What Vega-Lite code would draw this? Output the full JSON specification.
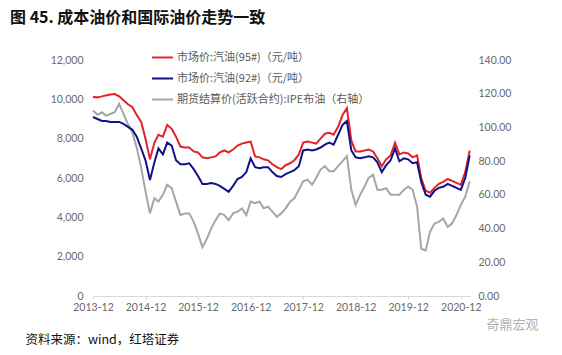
{
  "$schema": "https://vega.github.io/schema/vega-lite/v6.json",
  "width": 377,
  "height": 236,
  "autosize": {"type": "none"},
  "padding": {"left": 93, "top": 60, "right": 92, "bottom": 59},
  "background": "white",
  "title": {
    "text": "图 45. 成本油价和国际油价走势一致",
    "anchor": "start",
    "frame": "group",
    "dx": -83,
    "offset": 20,
    "fontSize": 16,
    "font": "Noto Sans CJK SC",
    "fontWeight": "bold",
    "color": "#111111"
  },
  "data": {
    "values": [
      {"date": "2013-12-01", "p95": 10120, "p92": 9100, "ipe": 110},
      {"date": "2014-01-01", "p95": 10100, "p92": 9000, "ipe": 107.5},
      {"date": "2014-02-01", "p95": 10150, "p92": 8900, "ipe": 109},
      {"date": "2014-03-01", "p95": 10200, "p92": 8900, "ipe": 107},
      {"date": "2014-04-01", "p95": 10250, "p92": 8850, "ipe": 108},
      {"date": "2014-05-01", "p95": 10270, "p92": 8850, "ipe": 109},
      {"date": "2014-06-01", "p95": 10150, "p92": 8850, "ipe": 114},
      {"date": "2014-07-01", "p95": 9950, "p92": 8750, "ipe": 108},
      {"date": "2014-08-01", "p95": 9750, "p92": 8600, "ipe": 102},
      {"date": "2014-09-01", "p95": 9600, "p92": 8450, "ipe": 97},
      {"date": "2014-10-01", "p95": 9200, "p92": 8100, "ipe": 88},
      {"date": "2014-11-01", "p95": 8850, "p92": 7500, "ipe": 76},
      {"date": "2014-12-01", "p95": 8000, "p92": 6900, "ipe": 62},
      {"date": "2015-01-01", "p95": 6950, "p92": 5900, "ipe": 49},
      {"date": "2015-02-01", "p95": 7800, "p92": 6800, "ipe": 58},
      {"date": "2015-03-01", "p95": 8200, "p92": 7500, "ipe": 56},
      {"date": "2015-04-01", "p95": 8100, "p92": 7200, "ipe": 60},
      {"date": "2015-05-01", "p95": 8700, "p92": 7800, "ipe": 66},
      {"date": "2015-06-01", "p95": 8500, "p92": 7650, "ipe": 64},
      {"date": "2015-07-01", "p95": 8100, "p92": 6900, "ipe": 56},
      {"date": "2015-08-01", "p95": 7600, "p92": 6700, "ipe": 48},
      {"date": "2015-09-01", "p95": 7550, "p92": 6700, "ipe": 49},
      {"date": "2015-10-01", "p95": 7550, "p92": 6750, "ipe": 49},
      {"date": "2015-11-01", "p95": 7350, "p92": 6450, "ipe": 44},
      {"date": "2015-12-01", "p95": 7300, "p92": 6100, "ipe": 37},
      {"date": "2016-01-01", "p95": 7050, "p92": 5700, "ipe": 29},
      {"date": "2016-02-01", "p95": 7000, "p92": 5700, "ipe": 34},
      {"date": "2016-03-01", "p95": 7050, "p92": 5750, "ipe": 40},
      {"date": "2016-04-01", "p95": 7100, "p92": 5700, "ipe": 45},
      {"date": "2016-05-01", "p95": 7300, "p92": 5600, "ipe": 49},
      {"date": "2016-06-01", "p95": 7400, "p92": 5450, "ipe": 48},
      {"date": "2016-07-01", "p95": 7300, "p92": 5300, "ipe": 45},
      {"date": "2016-08-01", "p95": 7450, "p92": 5600, "ipe": 49},
      {"date": "2016-09-01", "p95": 7650, "p92": 5950, "ipe": 50},
      {"date": "2016-10-01", "p95": 7750, "p92": 6050, "ipe": 52},
      {"date": "2016-11-01", "p95": 7800, "p92": 6300, "ipe": 48},
      {"date": "2016-12-01", "p95": 7850, "p92": 7000, "ipe": 56},
      {"date": "2017-01-01", "p95": 7100, "p92": 6550, "ipe": 55},
      {"date": "2017-02-01", "p95": 7050, "p92": 6500, "ipe": 56},
      {"date": "2017-03-01", "p95": 6950, "p92": 6550, "ipe": 52},
      {"date": "2017-04-01", "p95": 6900, "p92": 6550, "ipe": 53},
      {"date": "2017-05-01", "p95": 6700, "p92": 6300, "ipe": 50},
      {"date": "2017-06-01", "p95": 6550, "p92": 6100, "ipe": 47},
      {"date": "2017-07-01", "p95": 6450, "p92": 6050, "ipe": 49},
      {"date": "2017-08-01", "p95": 6650, "p92": 6200, "ipe": 52},
      {"date": "2017-09-01", "p95": 6750, "p92": 6300, "ipe": 56},
      {"date": "2017-10-01", "p95": 6900, "p92": 6400, "ipe": 58},
      {"date": "2017-11-01", "p95": 7200, "p92": 6600, "ipe": 63},
      {"date": "2017-12-01", "p95": 7800, "p92": 7400, "ipe": 68},
      {"date": "2018-01-01", "p95": 7850, "p92": 7450, "ipe": 69},
      {"date": "2018-02-01", "p95": 7800, "p92": 7400, "ipe": 66},
      {"date": "2018-03-01", "p95": 7750, "p92": 7450, "ipe": 70},
      {"date": "2018-04-01", "p95": 8000, "p92": 7550, "ipe": 75},
      {"date": "2018-05-01", "p95": 8250, "p92": 7700, "ipe": 77},
      {"date": "2018-06-01", "p95": 8300, "p92": 7800, "ipe": 74},
      {"date": "2018-07-01", "p95": 8200, "p92": 7700, "ipe": 74},
      {"date": "2018-08-01", "p95": 8600, "p92": 8200, "ipe": 77},
      {"date": "2018-09-01", "p95": 9200, "p92": 8700, "ipe": 80},
      {"date": "2018-10-01", "p95": 9550, "p92": 8900, "ipe": 83},
      {"date": "2018-11-01", "p95": 7900, "p92": 7400, "ipe": 63},
      {"date": "2018-12-01", "p95": 7350, "p92": 7050, "ipe": 54},
      {"date": "2019-01-01", "p95": 7350, "p92": 7000, "ipe": 60},
      {"date": "2019-02-01", "p95": 7400, "p92": 7050, "ipe": 65},
      {"date": "2019-03-01", "p95": 7450, "p92": 7100, "ipe": 70},
      {"date": "2019-04-01", "p95": 7350, "p92": 7050, "ipe": 72},
      {"date": "2019-05-01", "p95": 7000, "p92": 6800, "ipe": 63},
      {"date": "2019-06-01", "p95": 6600, "p92": 6300, "ipe": 63},
      {"date": "2019-07-01", "p95": 6950, "p92": 6650, "ipe": 64},
      {"date": "2019-08-01", "p95": 7150, "p92": 6900, "ipe": 60},
      {"date": "2019-09-01", "p95": 7800, "p92": 7500, "ipe": 60},
      {"date": "2019-10-01", "p95": 7200, "p92": 6850, "ipe": 60},
      {"date": "2019-11-01", "p95": 7300, "p92": 7000, "ipe": 63},
      {"date": "2019-12-01", "p95": 7250, "p92": 6950, "ipe": 65},
      {"date": "2020-01-01", "p95": 7050, "p92": 6750, "ipe": 63},
      {"date": "2020-02-01", "p95": 7150, "p92": 6800, "ipe": 53},
      {"date": "2020-03-01", "p95": 6000, "p92": 5800, "ipe": 28},
      {"date": "2020-04-01", "p95": 5350, "p92": 5150, "ipe": 27},
      {"date": "2020-05-01", "p95": 5250, "p92": 5050, "ipe": 38},
      {"date": "2020-06-01", "p95": 5500, "p92": 5350, "ipe": 43},
      {"date": "2020-07-01", "p95": 5700, "p92": 5500, "ipe": 44},
      {"date": "2020-08-01", "p95": 5800, "p92": 5550, "ipe": 46},
      {"date": "2020-09-01", "p95": 5950, "p92": 5700, "ipe": 41},
      {"date": "2020-10-01", "p95": 5850, "p92": 5600, "ipe": 43},
      {"date": "2020-11-01", "p95": 5750, "p92": 5500, "ipe": 48},
      {"date": "2020-12-01", "p95": 5650, "p92": 5400, "ipe": 54},
      {"date": "2021-01-01", "p95": 6300, "p92": 6000, "ipe": 59},
      {"date": "2021-02-01", "p95": 7400, "p92": 7150, "ipe": 68}
    ]
  },
  "transform": [
    {"fold": ["p95", "p92", "ipe"], "as": ["series", "value"]}
  ],
  "encoding": {
    "x": {
      "field": "date",
      "type": "temporal",
      "scale": {"domain": [{"year": 2013, "month": 12, "date": 1}, {"year": 2021, "month": 2, "date": 3}]},
      "axis": {
        "values": [
          {"year": 2013, "month": 12, "date": 1},
          {"year": 2014, "month": 12, "date": 1},
          {"year": 2015, "month": 12, "date": 1},
          {"year": 2016, "month": 12, "date": 1},
          {"year": 2017, "month": 12, "date": 1},
          {"year": 2018, "month": 12, "date": 1},
          {"year": 2019, "month": 12, "date": 1},
          {"year": 2020, "month": 12, "date": 1}
        ],
        "format": "%Y-%m",
        "labelOverlap": false,
        "labelFlush": false,
        "labelFont": "Lato",
        "labelFontSize": 10.5,
        "labelColor": "#6a6a6a",
        "labelPadding": 3,
        "domainColor": "#d9d9d9",
        "tickColor": "#d9d9d9",
        "tickSize": 3,
        "grid": false,
        "title": "资料来源：wind，红塔证券",
        "titleFont": "Noto Sans CJK SC",
        "titleFontSize": 12.5,
        "titleFontWeight": "normal",
        "titleColor": "#111111",
        "titleAnchor": "start",
        "titleAlign": "left",
        "titleBaseline": "alphabetic",
        "titleX": -68,
        "titleY": 47
      }
    },
    "color": {
      "field": "series",
      "type": "nominal",
      "scale": {"domain": ["p95", "p92", "ipe"], "range": ["#e3222a", "#10108c", "#a6a6a6"]},
      "legend": {
        "title": null,
        "orient": "none",
        "legendX": 58,
        "legendY": -14,
        "padding": 0,
        "symbolType": "stroke",
        "symbolSize": 441,
        "symbolStrokeWidth": 2,
        "rowPadding": 4,
        "labelOffset": 3,
        "labelFont": "Noto Sans CJK SC",
        "labelFontSize": 11,
        "labelColor": "#595959",
        "labelLimit": 300,
        "labelExpr": "datum.value == 'p95' ? '市场价:汽油(95#)（元/吨）' : datum.value == 'p92' ? '市场价:汽油(92#)（元/吨）' : '期货结算价(活跃合约):IPE布油（右轴）'"
      }
    }
  },
  "layer": [
    {
      "transform": [{"filter": "datum.series == 'ipe'"}],
      "mark": {"type": "line", "strokeWidth": 2},
      "encoding": {
        "y": {
          "field": "value",
          "type": "quantitative",
          "scale": {"domain": [0, 140]},
          "axis": {
            "orient": "right",
            "values": [0, 20, 40, 60, 80, 100, 120, 140],
            "format": ".2f",
            "labelFont": "Lato",
            "labelFontSize": 10.5,
            "labelColor": "#6a6a6a",
            "labelPadding": 8,
            "domain": false,
            "ticks": false,
            "grid": false,
            "title": "奇鼎宏观",
            "titleAngle": 0,
            "titleX": 42,
            "titleY": 268,
            "titleAlign": "center",
            "titleBaseline": "alphabetic",
            "titleFont": "Noto Sans CJK SC",
            "titleFontSize": 13,
            "titleFontWeight": "normal",
            "titleColor": "#b0b0b0"
          }
        }
      }
    },
    {
      "transform": [{"filter": "datum.series != 'ipe'"}],
      "mark": {"type": "line", "strokeWidth": 2},
      "encoding": {
        "y": {
          "field": "value",
          "type": "quantitative",
          "scale": {"domain": [0, 12000]},
          "axis": {
            "orient": "left",
            "values": [0, 2000, 4000, 6000, 8000, 10000, 12000],
            "format": ",.0f",
            "labelFont": "Lato",
            "labelFontSize": 10.5,
            "labelColor": "#6a6a6a",
            "labelPadding": 10,
            "domain": false,
            "ticks": false,
            "grid": false,
            "title": null
          }
        }
      }
    }
  ],
  "resolve": {"scale": {"y": "independent"}, "axis": {"y": "independent"}},
  "config": {"view": {"stroke": null}}
}
